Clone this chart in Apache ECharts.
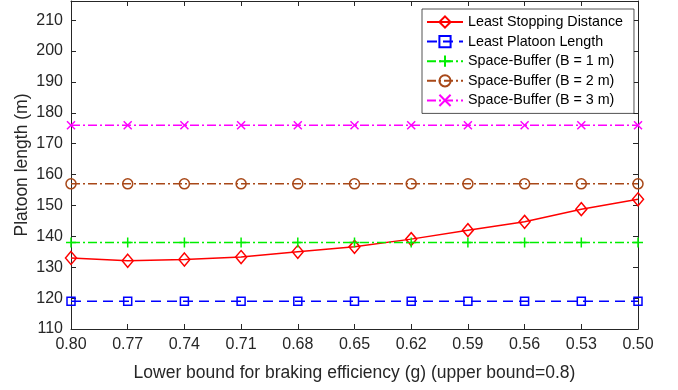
<!DOCTYPE html>
<html>
<head>
<meta charset="utf-8">
<script src="https://cdn.jsdelivr.net/npm/echarts@6/dist/echarts.min.js"></script>
<style>html,body{margin:0;padding:0;background:#fff;}#c{width:678px;height:390px;}</style>
</head>
<body>
<div id="c"></div>
<script>
const categories = ['0.80','0.77','0.74','0.71','0.68','0.65','0.62','0.59','0.56','0.53','0.50'];
const leastStopping = [133, 132.1, 132.5, 133.3, 135, 136.6, 139.1, 142, 144.7, 148.8, 152];
const leastPlatoon = [119, 119, 119, 119, 119, 119, 119, 119, 119, 119, 119];
const buffer1 = [138, 138, 138, 138, 138, 138, 138, 138, 138, 138, 138];
const buffer2 = [157, 157, 157, 157, 157, 157, 157, 157, 157, 157, 157];
const buffer3 = [176, 176, 176, 176, 176, 176, 176, 176, 176, 176, 176];

const FONT = 'Liberation Sans, Arial, Helvetica, sans-serif';
const AX = '#262626';
const chart = echarts.init(document.getElementById('c'), null, {renderer: 'canvas'});

function mk(name, data, color, symbol, size, dash) {
  return {
    name: name, type: 'line', data: data,
    xAxisIndex: 0, yAxisIndex: 0,
    symbol: symbol, symbolSize: size, showAllSymbol: true,
    lineStyle: {color: color, width: 1.5, type: dash},
    itemStyle: {color: 'transparent', borderColor: color, borderWidth: 1.5},
    emphasis: {disabled: true},
    animation: false, z: 3
  };
}

const option = {
  animation: false,
  backgroundColor: '#fff',
  textStyle: {fontFamily: FONT},
  grid: {left: 71, right: 40, top: 1, bottom: 61, containLabel: false},
  legend: {
    orient: 'vertical', left: 422, top: 9,
    itemWidth: 36, itemHeight: 14, itemGap: 5.6,
    padding: [6, 11, 6, 4],
    backgroundColor: '#fff', borderColor: '#262626', borderWidth: 0.8,
    textStyle: {fontFamily: FONT, fontSize: 14.3, color: '#000'},
    data: ['Least Stopping Distance','Least Platoon Length','Space-Buffer (B = 1 m)','Space-Buffer (B = 2 m)','Space-Buffer (B = 3 m)']
  },
  xAxis: [{
    type: 'category', data: categories, boundaryGap: false, position: 'bottom',
    name: 'Lower bound for braking efficiency (g) (upper bound=0.8)',
    nameLocation: 'middle', nameGap: 35, nameMoveOverlap: false,
    nameTextStyle: {fontFamily: FONT, fontSize: 17.5, color: AX},
    axisLine: {lineStyle: {color: AX, width: 1}},
    axisTick: {inside: true, length: 5, alignWithLabel: true, lineStyle: {color: AX}},
    axisLabel: {fontFamily: FONT, fontSize: 16, color: AX, margin: 8},
    splitLine: {show: false}
  }, {
    type: 'category', data: categories, boundaryGap: false, position: 'top',
    axisLine: {lineStyle: {color: AX, width: 1}},
    axisTick: {inside: true, length: 5, lineStyle: {color: AX}},
    axisLabel: {show: false}, splitLine: {show: false}
  }],
  yAxis: [{
    type: 'value', min: 110, max: 216.2, interval: 10, position: 'left',
    name: 'Platoon length (m)', nameLocation: 'middle', nameGap: 40, nameMoveOverlap: false,
    nameTextStyle: {fontFamily: FONT, fontSize: 17.5, color: AX},
    axisLine: {show: true, lineStyle: {color: AX, width: 1}},
    axisTick: {show: true, inside: true, length: 5, lineStyle: {color: AX}},
    axisLabel: {fontFamily: FONT, fontSize: 16, color: AX, margin: 8, showMaxLabel: false},
    splitLine: {show: false}
  }, {
    type: 'value', min: 110, max: 216.2, interval: 10, position: 'right',
    axisLine: {show: true, lineStyle: {color: AX, width: 1}},
    axisTick: {show: true, inside: true, length: 5, lineStyle: {color: AX}},
    axisLabel: {show: false}, splitLine: {show: false}
  }],
  series: [
    mk('Least Stopping Distance', leastStopping, '#ff0000', 'diamond', [11, 13], 'solid'),
    mk('Least Platoon Length', leastPlatoon, '#0000ff', 'rect', 8, [10, 6]),
    mk('Space-Buffer (B = 1 m)', buffer1, '#00ee00', 'path://M5,0L5,10M0,5L10,5', 10, [9, 3, 2, 3]),
    mk('Space-Buffer (B = 2 m)', buffer2, '#a84818', 'circle', 10, [9, 3, 2, 3]),
    mk('Space-Buffer (B = 3 m)', buffer3, '#ff00ff', 'path://M0,0L10,10M10,0L0,10', 8, [9, 3, 2, 3])
  ]
};
chart.setOption(option);
</script>
</body>
</html>
